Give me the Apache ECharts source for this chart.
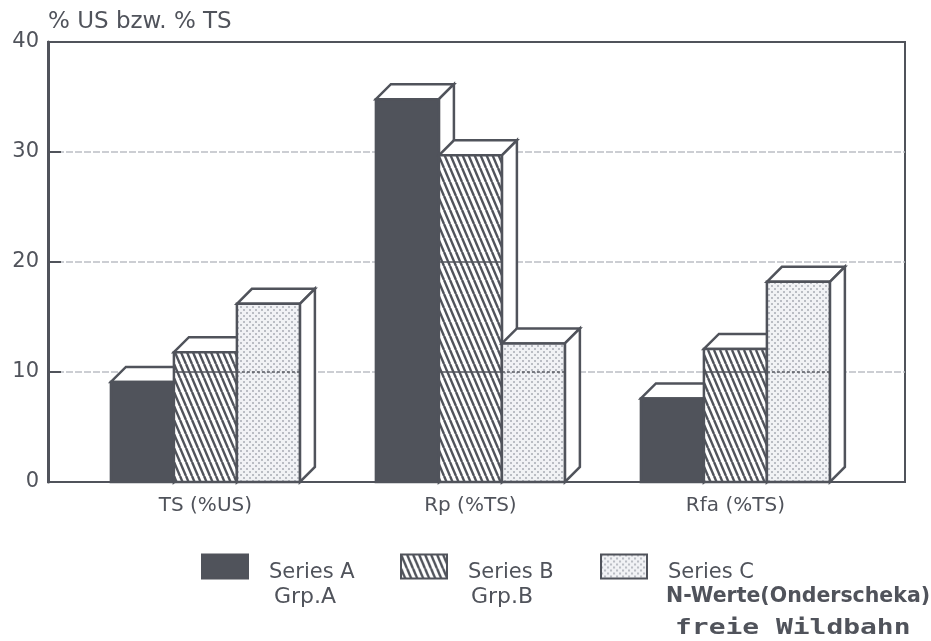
<!DOCTYPE html>
<html>
<head>
<meta charset="utf-8">
<style>html,body{margin:0;background:#fff}#chart{width:931px;height:641px}</style>
<script src="https://cdn.jsdelivr.net/npm/echarts@6/dist/echarts.min.js"></script>
</head>
<body>
<div id="chart"></div>
<script>
// Chart data
const categories = ['TS (%US)', 'Rp (%TS)', 'Rfa (%TS)'];
const seriesNames = ['Series A', 'Series B', 'Series C'];
const seriesA = [9.1, 34.8, 7.6];
const seriesB = [11.8, 29.7, 12.1];
const seriesC = [16.2, 12.6, 18.2];
const yTicks = [10, 20, 30];

const INK = '#50535b';
const GRID = '#bcbfc5';
const DEPTH = 15;          // pixel offset of the oblique faces
const BAR_UNITS = 0.2377;  // bar width in category units

// Tiled fills for the hatched and stippled bars
function hatchTile() {
  const w = 6, h = 14, c = document.createElement('canvas');
  c.width = w; c.height = h;
  const g = c.getContext('2d');
  g.fillStyle = '#fff'; g.fillRect(0, 0, w, h);
  g.strokeStyle = INK; g.lineWidth = 2.4;
  for (let k = -1; k <= 1; k++) {
    g.beginPath(); g.moveTo(k * w, 0); g.lineTo(k * w + w, h); g.stroke();
  }
  return { image: c, repeat: 'repeat' };
}
function dotTile() {
  const c = document.createElement('canvas');
  c.width = 6; c.height = 6;
  const g = c.getContext('2d');
  g.fillStyle = '#f1f2f5'; g.fillRect(0, 0, 6, 6);
  g.fillStyle = '#babdc4';
  g.fillRect(0, 0, 2, 2); g.fillRect(3, 3, 2, 2);
  return { image: c, repeat: 'repeat' };
}
const fills = [INK, hatchTile(), dotTile()];

// One oblique box: top and side faces, then the front face and the grid lines crossing it
function boxRenderer(seriesIndex) {
  return function (params, api) {
    const i = api.value(0), v = api.value(1);
    const off = (seriesIndex - 1.5) * BAR_UNITS;
    const [x0, yTop] = api.coord([i + off, v]);
    const [x1, yBase] = api.coord([i + off + BAR_UNITS, 0]);
    const edge = { stroke: INK, lineWidth: 2.5, lineJoin: 'miter' };
    const children = [
      { type: 'polygon', shape: { points: [[x0, yTop], [x0 + DEPTH, yTop - DEPTH], [x1 + DEPTH, yTop - DEPTH], [x1, yTop]] },
        style: Object.assign({ fill: '#fff' }, edge) },
      { type: 'polygon', shape: { points: [[x1, yTop], [x1 + DEPTH, yTop - DEPTH], [x1 + DEPTH, yBase - DEPTH], [x1, yBase]] },
        style: Object.assign({ fill: '#fff' }, edge) },
      { type: 'rect', shape: { x: x0, y: yTop, width: x1 - x0, height: yBase - yTop },
        style: Object.assign({ fill: fills[seriesIndex] }, edge) }
    ];
    yTicks.filter(t => t < v).forEach(t => {
      const y = api.coord([0, t])[1];
      children.push({ type: 'line', shape: { x1: x0, y1: y, x2: x1, y2: y },
        style: { stroke: INK, lineWidth: 1.5, lineDash: seriesIndex === 2 ? [3, 2] : null } });
    });
    return { type: 'group', children };
  };
}

const columns = [seriesA, seriesB, seriesC];
const fontBody = '"DejaVu Sans"';

// The empty first line drops each legend label a little below the swatch centre
function legendAt(name, index, left, top) {
  return {
    left, top, padding: 0, orient: 'horizontal', selectedMode: false, itemWidth: 46, itemHeight: 24,
    formatter: n => '\n' + n,
    textStyle: { color: INK, fontFamily: fontBody, fontSize: 21, lineHeight: 12, padding: [0, 0, 0, 16] },
    data: [{ name, icon: 'rect', itemStyle: { color: fills[index], borderColor: INK, borderWidth: 2 } }]
  };
}

const chart = echarts.init(document.getElementById('chart'), null, { renderer: 'canvas' });
chart.setOption({
  animation: false,
  backgroundColor: '#fff',
  grid: { left: 48, right: 26, top: 42, bottom: 159, show: true, borderColor: INK, borderWidth: 2, backgroundColor: 'transparent' },
  xAxis: {
    type: 'value', min: -0.594, max: 2.64,
    splitLine: { show: false },
    axisLine: { show: false },
    axisTick: { show: false },
    axisLabel: {
      customValues: [0, 1, 2],
      formatter: v => categories[Math.round(v)],
      color: INK, fontFamily: fontBody, fontSize: 20, margin: 14
    }
  },
  yAxis: {
    type: 'value', min: 0, max: 40, interval: 10,
    name: '% US bzw. % TS', nameLocation: 'end', nameGap: 8,
    nameTextStyle: { color: INK, fontFamily: fontBody, fontSize: 23, align: 'left' },
    axisLine: { show: true, onZero: false, lineStyle: { color: INK, width: 3 } },
    axisTick: { show: true, inside: true, length: 13, lineStyle: { color: INK, width: 2 } },
    axisLabel: { color: INK, fontFamily: fontBody, fontSize: 21, margin: 9 },
    splitLine: { show: true, showMinLine: false, showMaxLine: false, lineStyle: { color: GRID, width: 1.5, type: [7, 2] } }
  },
  legend: [
    legendAt('Series A', 0, 201, 550),
    legendAt('Series B', 1, 400, 550),
    legendAt('Series C', 2, 600, 550)
  ],
  graphic: [
    { type: 'text', left: 274, top: 586, style: { text: 'Grp.A', fill: INK, font: '22px "DejaVu Sans"' } },
    { type: 'text', left: 471, top: 586, style: { text: 'Grp.B', fill: INK, font: '22px "DejaVu Sans"' } },
    { type: 'text', left: 666, top: 586, style: { text: 'N-Werte(Onderscheka)', fill: INK, font: 'bold 20.5px "DejaVu Sans"' } },
    { type: 'text', x: 675, y: 617, scaleX: 1.27, style: { text: 'freie Wildbahn', fill: INK, font: 'bold 22px "DejaVu Sans Mono"' } }
  ],
  series: columns.map((values, s) => ({
    type: 'custom',
    name: seriesNames[s],
    coordinateSystem: 'cartesian2d',
    itemStyle: { color: s === 0 ? INK : '#ffffff' },
    renderItem: boxRenderer(s),
    data: values.map((v, i) => [i, v]),
    encode: { x: 0, y: 1 },
    z: 2
  }))
});
</script>
</body>
</html>
